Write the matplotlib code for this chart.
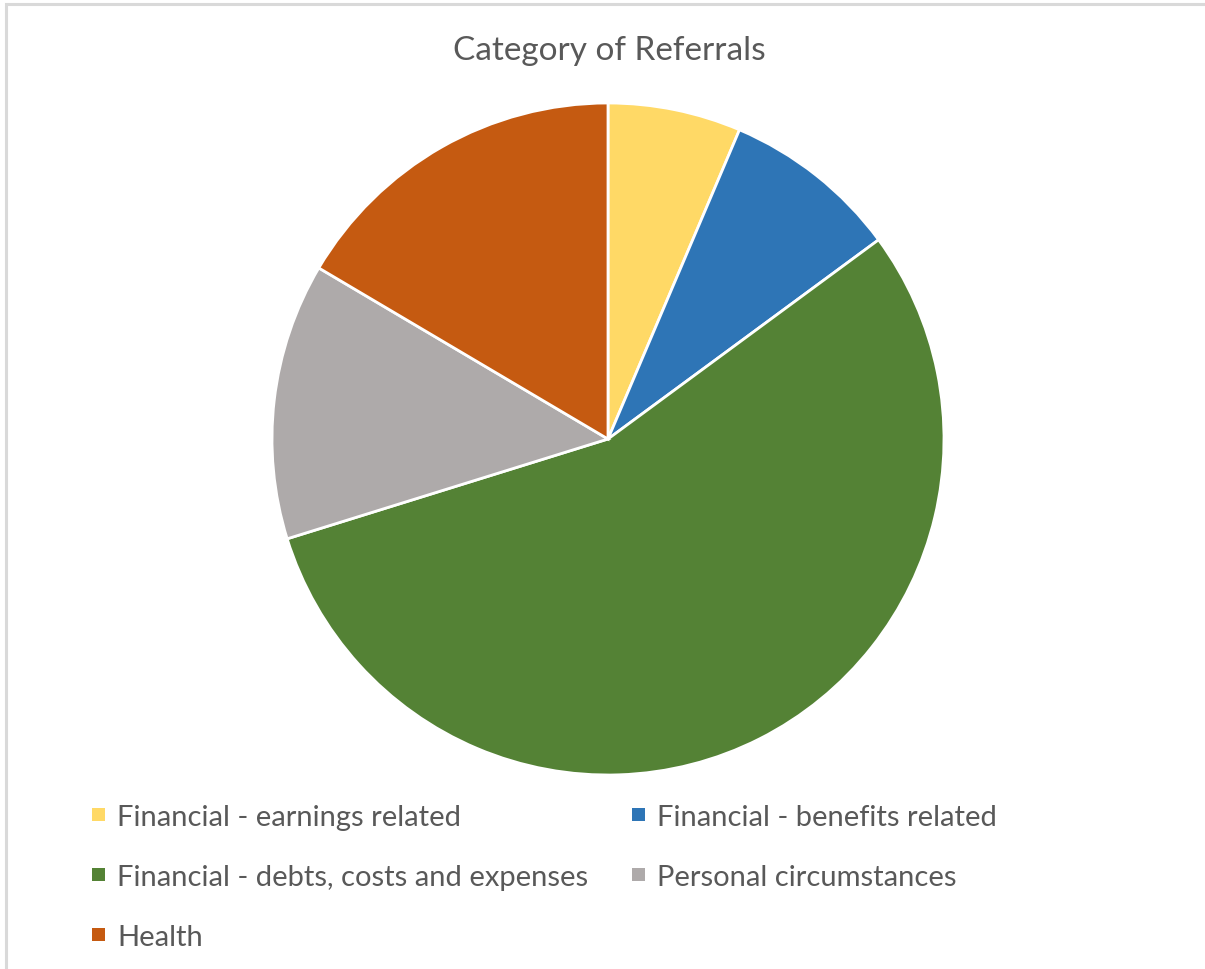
import matplotlib
matplotlib.use("Agg")
import matplotlib.pyplot as plt
from matplotlib.patches import Rectangle

categories = [
    "Financial - earnings related",
    "Financial - benefits related",
    "Financial - debts, costs and expenses",
    "Personal circumstances",
    "Health",
]
shares = [6.4, 8.5, 55.3, 13.3, 16.5]
colors = ["#FFD966", "#2E75B6", "#548235", "#AEAAAA", "#C55A11"]

W, H = 1205, 970
plt.rcParams["font.family"] = ["Lato", "DejaVu Sans"]
text_color = "#595959"

fig = plt.figure(figsize=(W / 100, H / 100), dpi=100)


def fx(px):
    return px / W


def fy(py):
    return 1 - py / H


# chart area outline (only top and left edges fall inside the image)
fig.patches.append(Rectangle((fx(6), fy(H + 20)), fx(W + 40), (H + 15) / H,
                             transform=fig.transFigure, fill=False,
                             edgecolor="#D9D9D9", linewidth=2.2))

cx, cy, r = 608, 440, 336
ax = fig.add_axes([fx(cx - r), fy(cy + r), 2 * r / W, 2 * r / H])
ax.pie(shares, colors=colors, startangle=90, counterclock=False, radius=1,
       wedgeprops=dict(edgecolor="white", linewidth=2.0, clip_on=False))
ax.set_xlim(-1, 1)
ax.set_ylim(-1, 1)
ax.set_aspect("equal")
ax.axis("off")

fig.text(fx(609), fy(60), "Category of Referrals", ha="center", va="baseline",
         fontsize=24, color=text_color)

# legend, two columns
col_x = [92, 632]
row_y = [826, 886, 946]
for i, (name, c) in enumerate(zip(categories, colors)):
    x = col_x[i % 2]
    y = row_y[i // 2]
    fig.patches.append(Rectangle((fx(x), fy(y - 4)), fx(13), 13 / H,
                                 transform=fig.transFigure, facecolor=c,
                                 edgecolor="none"))
    fig.text(fx(x + 25), fy(y), name, ha="left", va="baseline",
             fontsize=21, color=text_color)

fig.savefig("out.png", dpi=100)
